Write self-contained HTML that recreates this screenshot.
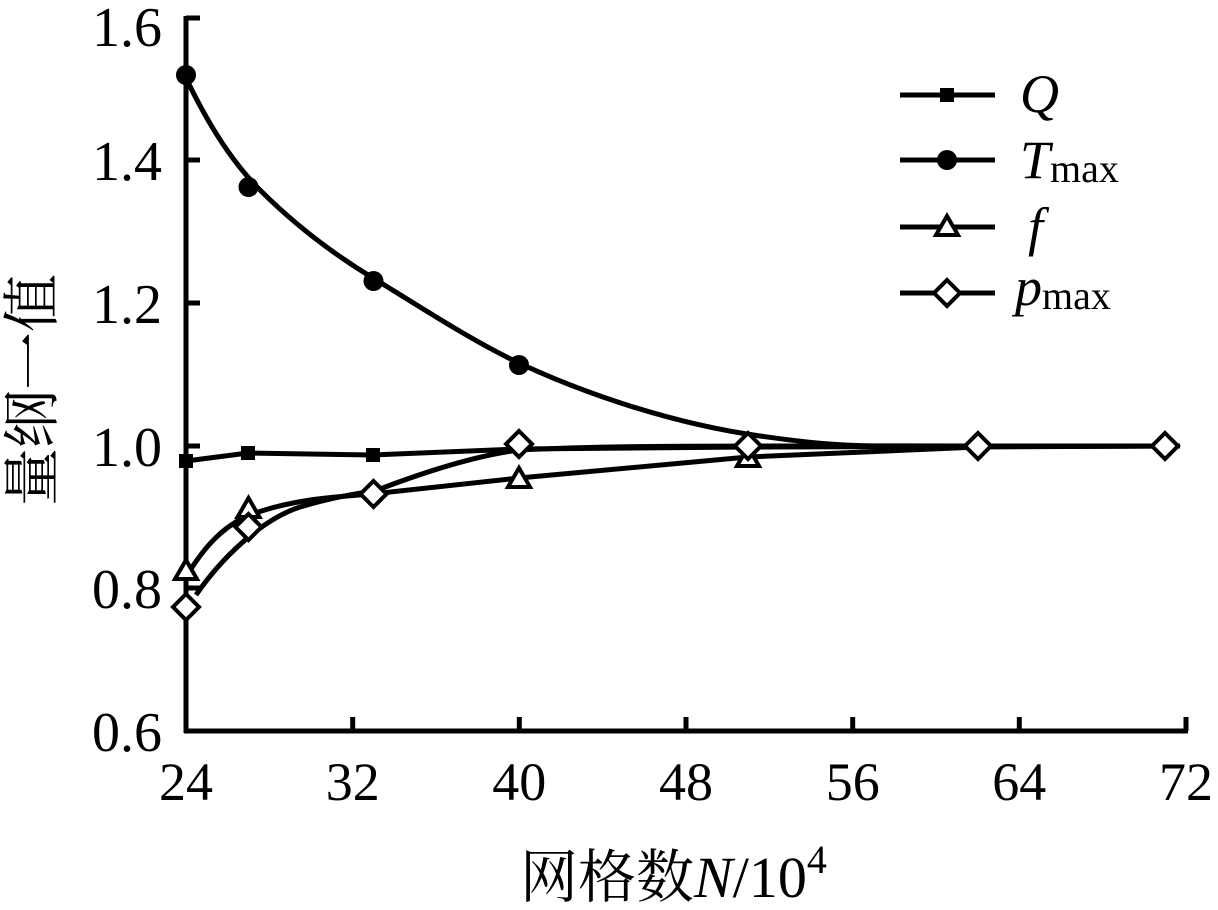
<!DOCTYPE html>
<html><head><style>
body{margin:0;background:#fff;}
svg text{font-family:"Liberation Serif","Noto Serif CJK SC",serif;fill:#000;}
</style></head><body>
<svg width="1218" height="905" viewBox="0 0 1218 905" xmlns="http://www.w3.org/2000/svg">
<g stroke="#000" stroke-width="5" fill="none">
<line x1="186" y1="16" x2="186" y2="733"/>
<line x1="184" y1="731" x2="1188" y2="731"/>
<line x1="186" y1="18" x2="200" y2="18"/>
<line x1="186" y1="160" x2="200" y2="160"/>
<line x1="186" y1="303" x2="200" y2="303"/>
<line x1="186" y1="446" x2="200" y2="446"/>
<line x1="186" y1="588" x2="200" y2="588"/>
<line x1="352.7" y1="731" x2="352.7" y2="717"/>
<line x1="519.3" y1="731" x2="519.3" y2="717"/>
<line x1="686" y1="731" x2="686" y2="717"/>
<line x1="852.7" y1="731" x2="852.7" y2="717"/>
<line x1="1019.3" y1="731" x2="1019.3" y2="717"/>
<line x1="1186" y1="731" x2="1186" y2="717"/>
<path d="M186 461 L248 453 L372 455 L519 449 L748 447 L1180 446"/>
<path d="M186 78 C205 118, 230 160, 260 190 C295 225, 335 255, 373 278 S 470 340, 519 363 S 660 422, 760 436 S 860 446, 1180 446"/>
<path d="M186 577 C205 545, 225 525, 250 515 C290 500, 330 497, 372 494 L519 478 L748 457 L978 447 L1180 446"/>
<path d="M196 595 C220 560, 260 520, 300 507 C340 495, 360 494, 380 489 C430 470, 480 455, 519 450 C620 445, 700 446, 1180 446"/>
</g>
<g fill="#000">
<rect x="179" y="454" width="14" height="14"/><rect x="241" y="446" width="14" height="14"/><rect x="366" y="448" width="14" height="14"/><rect x="1159" y="439" width="14" height="14"/>
<circle cx="186" cy="75" r="10"/><circle cx="248.5" cy="187" r="10"/><circle cx="373.5" cy="281" r="10"/><circle cx="519" cy="365" r="10"/>
</g>
<g stroke="#000" stroke-width="4" fill="#fff">
<path d="M186 560 L197 579 L175 579 Z"/><path d="M248.5 498 L259.5 517 L237.5 517 Z"/><path d="M519 468 L530 487 L508 487 Z"/><path d="M748 447 L759 466 L737 466 Z"/>
<path d="M186 594 L199 607 L186 620 L173 607 Z"/>
<path d="M248.5 514 L261.5 527 L248.5 540 L235.5 527 Z"/>
<path d="M373.5 481 L386.5 494 L373.5 507 L360.5 494 Z"/>
<path d="M519 431 L532 444 L519 457 L506 444 Z"/>
<path d="M748 433 L761 446 L748 459 L735 446 Z"/>
<path d="M978 433 L991 446 L978 459 L965 446 Z"/>
<path d="M1165 433 L1178 446 L1165 459 L1152 446 Z"/>
</g>
<g stroke="#000" stroke-width="5">
<line x1="900" y1="95" x2="995" y2="95"/><line x1="900" y1="160" x2="995" y2="160"/>
<line x1="900" y1="227" x2="995" y2="227"/><line x1="900" y1="293" x2="995" y2="293"/>
</g>
<rect x="940" y="88" width="14" height="14"/>
<circle cx="947" cy="160" r="10"/>
<path d="M947 216 L958 235 L936 235 Z" stroke="#000" stroke-width="4" fill="#fff"/>
<path d="M947 280 L960 293 L947 306 L934 293 Z" stroke="#000" stroke-width="4" fill="#fff"/>
<text x="1020" y="112" font-size="54" font-style="italic">Q</text>
<text x="1020" y="178" font-size="54" font-style="italic">T<tspan font-size="40" font-style="normal" dy="4">max</tspan></text>
<text x="1028" y="245" font-size="54" font-style="italic">f</text>
<text x="1015" y="305" font-size="54" font-style="italic">p<tspan font-size="40" font-style="normal" dy="4">max</tspan></text>
<g font-size="56" text-anchor="end">
<text x="162" y="46">1.6</text><text x="162" y="180">1.4</text><text x="162" y="323">1.2</text>
<text x="162" y="466">1.0</text><text x="162" y="608">0.8</text><text x="162" y="751">0.6</text>
</g>
<g font-size="54" text-anchor="middle">
<text x="186" y="800">24</text><text x="352.7" y="800">32</text><text x="519.3" y="800">40</text>
<text x="686" y="800">48</text><text x="852.7" y="800">56</text><text x="1019.3" y="800">64</text><text x="1186" y="800">72</text>
</g>
<text x="520" y="897" font-size="58">网格数<tspan font-style="italic">N</tspan>/10<tspan font-size="40" dy="-24">4</tspan></text>
<text transform="translate(52,390) rotate(-90)" font-size="58" text-anchor="middle">量纲一值</text>
</svg>
</body></html>
